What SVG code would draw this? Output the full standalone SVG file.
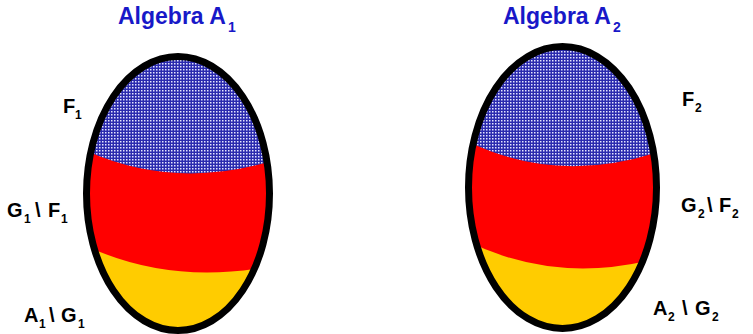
<svg xmlns="http://www.w3.org/2000/svg" width="753" height="334" viewBox="0 0 753 334">
<style>
.title{font-family:"Liberation Sans",Arial,sans-serif;font-weight:bold;font-size:23px;fill:#1818c8}
.tsub{font-size:14px}
.lbl{font-family:"Liberation Sans",Arial,sans-serif;font-weight:bold;font-size:20px;fill:#000}
.sub{font-size:12px}
.outline{fill:none;stroke:#000;stroke-width:7}
.red{fill:#ff0000}
.yellow{fill:#ffcc00}
.blue{fill:url(#dots)}
</style>
<defs>
<pattern id="dots" width="3" height="3" patternUnits="userSpaceOnUse">
<rect width="3" height="3" fill="#2a2aae"/>
<rect width="1.5" height="1.5" fill="#e4e4ff"/>
</pattern>
<clipPath id="c1"><ellipse cx="178" cy="193.5" rx="91.5" ry="137"/></clipPath>
<clipPath id="c2"><ellipse cx="562.5" cy="187.5" rx="94" ry="141"/></clipPath>
</defs>
<g id="algebra1">
<g clip-path="url(#c1)">
<rect class="yellow" x="80" y="50" width="200" height="290"/>
<path class="red" d="M70 40 H290 V262 Q175 290 80 243 Z"/>
<path class="blue" d="M70 40 H290 V155 Q180 195 80 148 Z"/>
</g>
<ellipse class="outline" cx="178" cy="193.5" rx="91.5" ry="137"/>
<text class="title" x="118" y="24">Algebra A<tspan class="tsub" x="228" y="32">1</tspan></text>
</g>
<g id="algebra2">
<g clip-path="url(#c2)">
<rect class="yellow" x="460" y="40" width="210" height="300"/>
<path class="red" d="M455 30 H670 V255 Q560 288 465 240 Z"/>
<path class="blue" d="M455 30 H670 V148 Q560 188 465 140 Z"/>
</g>
<ellipse class="outline" cx="562.5" cy="187.5" rx="94" ry="141"/>
<text class="title" x="503" y="24">Algebra A<tspan class="tsub" x="613" y="32">2</tspan></text>
</g>
<g id="label-F1"><text class="lbl" x="63" y="113">F<tspan class="sub" x="75" y="119">1</tspan></text></g>
<g id="label-G1F1"><text class="lbl" x="7" y="217">G<tspan class="sub" x="24" y="223">1</tspan><tspan x="35" y="217">\</tspan><tspan x="48" y="217">F</tspan><tspan class="sub" x="61" y="223">1</tspan></text></g>
<g id="label-A1G1"><text class="lbl" x="24" y="322">A<tspan class="sub" x="39" y="328">1</tspan><tspan x="49" y="322">\</tspan><tspan x="61" y="322">G</tspan><tspan class="sub" x="78" y="328">1</tspan></text></g>
<g id="label-F2"><text class="lbl" x="682" y="106">F<tspan class="sub" x="695" y="112">2</tspan></text></g>
<g id="label-G2F2"><text class="lbl" x="681" y="212">G<tspan class="sub" x="698" y="218">2</tspan><tspan x="707" y="212">\</tspan><tspan x="719" y="212">F</tspan><tspan class="sub" x="732" y="218">2</tspan></text></g>
<g id="label-A2G2"><text class="lbl" x="653" y="315">A<tspan class="sub" x="668" y="321">2</tspan><tspan x="682" y="315">\</tspan><tspan x="695" y="315">G</tspan><tspan class="sub" x="712" y="321">2</tspan></text></g>
</svg>
